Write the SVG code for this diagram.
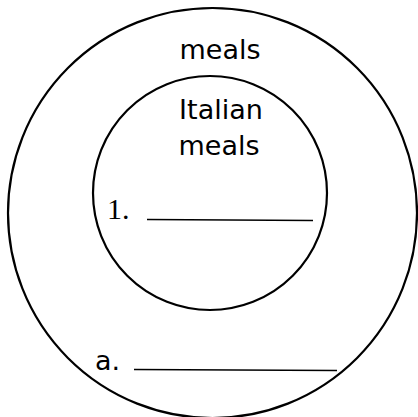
<svg xmlns="http://www.w3.org/2000/svg" width="418" height="417" viewBox="0 0 418 417">
<style>
.c{fill:none;stroke:#000;stroke-width:2.2}
.t{font-family:"DejaVu Sans",sans-serif;font-size:27px;fill:#000}
.s{font-family:"Liberation Serif",serif;font-size:30px;fill:#000}
.l{stroke:#000;stroke-width:1.6}
</style>
<rect width="418" height="417" fill="#fff"/>
<g id="outer">
<ellipse class="c" cx="212.5" cy="213" rx="204.5" ry="205"/>
<text class="t" x="220" y="59" text-anchor="middle">meals</text>
<text class="t" x="95" y="370">a.</text>
<line class="l" x1="134" y1="369.5" x2="337" y2="370.5"/>
</g>
<g id="inner">
<ellipse class="c" cx="210" cy="193" rx="117" ry="117"/>
<text class="t" x="221" y="119" text-anchor="middle">Italian</text>
<text class="t" x="219" y="155" text-anchor="middle">meals</text>
<text class="s" x="107" y="219">1.</text>
<line class="l" x1="147" y1="219.5" x2="313" y2="220.5"/>
</g>
</svg>
